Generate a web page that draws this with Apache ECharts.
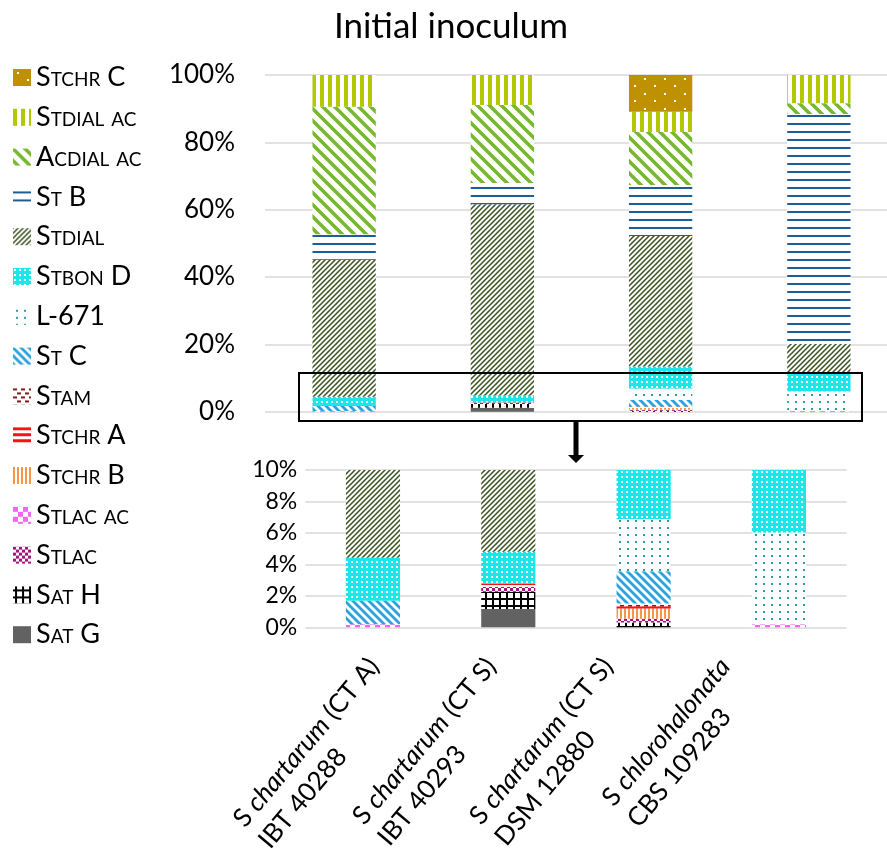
<!DOCTYPE html>
<html>
<head>
<meta charset="utf-8">
<script src="https://cdn.jsdelivr.net/npm/echarts@6/dist/echarts.min.js"></script>
<style>
  html, body { margin: 0; padding: 0; background: #ffffff; }
  #chart { width: 887px; height: 848px; }
</style>
</head>
<body>
<div id="chart"></div>
<script>
// Strains shown on the category axis
const strains = ['IBT 40288', 'IBT 40293', 'DSM 12880', 'CBS 109283'];
const species = ['chartarum', 'chartarum', 'chartarum', 'chlorohalonata'];
const chemotypes = ['(CT A)', '(CT S)', '(CT S)', ''];

// Relative abundance (%) of each metabolite group, stacked from the bottom up
const satG     = [0,    1.16, 0,     0];
const satH     = [0,    1.1,  0.3,   0];
const stlac    = [0,    0.3,  0.25,  0];
const stlacAc  = [0.2,  0,    0,     0.2];
const stchrB   = [0,    0,    0.64,  0];
const stchrA   = [0,    0.2,  0.15,  0];
const stam     = [0,    0,    0.18,  0];
const stC      = [1.49, 0,    2.04,  0];
const l671     = [0,    0,    3.32,  5.83];
const stbonD   = [2.73, 2.04, 6.52,  5.17];
const stdial   = [40.7, 56.8, 38.8,  9.0];
const stB      = [7.58, 6.3,  15.1,  68.2];
const acdialAc = [37.9, 23.2, 15.8,  3.2];
const stdialAc = [9.4,  8.9,  6.0,   8.4];
const stchrC   = [0,    0,    10.9,  0];

// Value axis ranges: [min, max, step]
const overviewAxis = [0, 100, 20];
const detailAxis = [0, 10, 2];

const FONT = 'Lato, "Open Sans", "DejaVu Sans", sans-serif';

// ---- pattern fills -------------------------------------------------------
function tile(w, h, paint) {
  const c = document.createElement('canvas');
  c.width = w; c.height = h;
  const g = c.getContext('2d');
  g.fillStyle = '#ffffff';
  g.fillRect(0, 0, w, h);
  paint(g, w, h);
  return { image: c, repeat: 'repeat' };
}
function diagUp(g, p, color, lw) {          // "/" stripes
  g.strokeStyle = color; g.lineWidth = lw; g.beginPath();
  for (let c = 0; c <= 2 * p; c += p) { g.moveTo(c + 2, -2); g.lineTo(c - p - 2, p + 2); }
  g.stroke();
}
function diagDown(g, p, color, lw) {        // "\" stripes
  g.strokeStyle = color; g.lineWidth = lw; g.beginPath();
  for (let d = -p; d <= p; d += p) { g.moveTo(d - 2, -2); g.lineTo(d + p + 2, p + 2); }
  g.stroke();
}

const fills = {
  'Sat G': '#626262',
  'Sat H': tile(7, 7, g => { g.fillStyle = '#000'; g.fillRect(2, 0, 2, 7); g.fillRect(0, 3, 7, 2); }),
  'Stlac': tile(6, 6, g => { g.fillStyle = '#A3147E'; g.fillRect(0, 0, 3, 3); g.fillRect(3, 3, 3, 3); }),
  'Stlac ac': tile(10, 10, g => { g.fillStyle = '#F466F0'; g.fillRect(0, 0, 5, 5); g.fillRect(5, 5, 5, 5); }),
  'Stchr B': tile(4, 4, g => { g.fillStyle = '#F7964A'; g.fillRect(0, 0, 2, 4); }),
  'Stchr A': tile(6, 6, g => { g.fillStyle = '#FF1010'; g.fillRect(0, 0, 6, 3); }),
  'Stam': tile(8, 8, g => { g.fillStyle = '#7E1C1C'; g.fillRect(0, 1, 4, 2); g.fillRect(4, 5, 4, 2); }),
  'St C': tile(8, 8, g => diagDown(g, 8, '#2AA3DA', 2.8)),
  'L-671': tile(8, 7, g => { g.fillStyle = '#2E9C9E'; g.fillRect(3, 2, 2, 2); }),
  'Stbon D': tile(5, 5, g => { g.fillStyle = '#1CE6EA'; g.fillRect(0, 0, 5, 5); g.fillStyle = '#ffffff'; g.fillRect(1, 1, 2, 2); }),
  'Stdial': tile(5, 5, g => diagUp(g, 5, '#38521F', 1.5)),
  'St B': tile(8, 8, g => { g.fillStyle = '#1F5E95'; g.fillRect(0, 3, 8, 2); }),
  'Acdial ac': tile(12, 12, g => diagDown(g, 12, '#77B82C', 3.6)),
  'Stdial ac': tile(8, 8, g => { g.fillStyle = '#B2C800'; g.fillRect(0, 0, 4, 8); }),
  'Stchr C': tile(20, 15, g => { g.fillStyle = '#BF9000'; g.fillRect(0, 0, 20, 15); g.fillStyle = '#ffffff'; g.fillRect(4, 3, 2, 2); g.fillRect(14, 10, 2, 2); })
};

// Stack order, bottom to top
const groups = [
  ['Sat G', satG], ['Sat H', satH], ['Stlac', stlac], ['Stlac ac', stlacAc],
  ['Stchr B', stchrB], ['Stchr A', stchrA], ['Stam', stam], ['St C', stC],
  ['L-671', l671], ['Stbon D', stbonD], ['Stdial', stdial], ['St B', stB],
  ['Acdial ac', acdialAc], ['Stdial ac', stdialAc], ['Stchr C', stchrC]
];

const series = [];
groups.forEach(([name, values]) => {
  [0, 1].forEach(idx => {
    series.push({
      type: 'bar',
      name: name,
      stack: idx === 0 ? 'overview' : 'detail',
      xAxisIndex: idx,
      yAxisIndex: idx,
      data: values,
      barWidth: '40%',
      clip: true,
      itemStyle: { color: fills[name] },
      emphasis: { disabled: true }
    });
  });
});

const gridLine = { lineStyle: { color: '#d9d9d9', width: 1.5 } };
const labelRich = {
  n: { fontFamily: FONT, fontSize: 26, color: '#000', align: 'left', lineHeight: 33 },
  i: { fontFamily: FONT, fontSize: 26, color: '#000', align: 'left', lineHeight: 33, fontStyle: 'italic' }
};
const hiddenAxis = { axisLabel: { show: false }, axisLine: { show: false }, axisTick: { show: false } };

const chart = echarts.init(document.getElementById('chart'), null, { renderer: 'canvas' });
chart.setOption({
  animation: false,
  backgroundColor: '#ffffff',
  title: {
    text: 'Initial inoculum',
    left: 446, top: 4, textAlign: 'center',
    textStyle: { fontFamily: FONT, fontSize: 35, fontWeight: 'normal', color: '#000' }
  },
  legend: {
    orient: 'vertical', left: 8, top: 59,
    itemWidth: 18, itemHeight: 17, itemGap: 12.8, icon: 'rect',
    selectedMode: false,
    data: groups.map(g => g[0]).reverse(),
    textStyle: { fontFamily: FONT, fontSize: 27, fontStyle: 'small-caps', color: '#000' }
  },
  grid: [
    { left: 265, top: 75, width: 633, height: 336.7, containLabel: false, outerBoundsMode: 'none' },
    { left: 305.3, top: 470, width: 541.3, height: 157.3, containLabel: false, outerBoundsMode: 'none' },
    // strain captions under the detail panel
    { left: 303, top: 470, width: 468, height: 157.3, containLabel: false, outerBoundsMode: 'none' }
  ],
  xAxis: [
    Object.assign({ type: 'category', gridIndex: 0, data: strains }, hiddenAxis),
    Object.assign({ type: 'category', gridIndex: 1, data: strains }, hiddenAxis),
    { type: 'category', gridIndex: 2, data: strains,
      axisLine: { show: false }, axisTick: { show: false },
      axisLabel: {
        interval: 0, rotate: 50, margin: 24, align: 'right', verticalAlign: 'top',
        formatter: (v, i) => '{n|S }{i|' + species[i] + '}' +
          (chemotypes[i] ? '{n| ' + chemotypes[i] + '}' : '') + '\n{n|' + strains[i] + '}',
        rich: labelRich
      } }
  ],
  yAxis: [
    { type: 'value', gridIndex: 0, min: overviewAxis[0], max: overviewAxis[1], interval: overviewAxis[2],
      axisLine: { show: false }, axisTick: { show: false }, splitLine: gridLine,
      axisLabel: { formatter: '{value}%', fontFamily: FONT, fontSize: 26, color: '#000', margin: 30 } },
    { type: 'value', gridIndex: 1, min: detailAxis[0], max: detailAxis[1], interval: detailAxis[2],
      axisLine: { show: false }, axisTick: { show: false }, splitLine: gridLine,
      axisLabel: { formatter: '{value}%', fontFamily: FONT, fontSize: 23, color: '#000', margin: 8 } },
    { type: 'value', gridIndex: 2, min: detailAxis[0], max: detailAxis[1], show: false }
  ],
  series: series,
  graphic: [
    { type: 'rect', z: 100, shape: { x: 299, y: 373, width: 563, height: 48 },
      style: { fill: 'none', stroke: '#000', lineWidth: 2 } },
    { type: 'line', z: 100, shape: { x1: 576, y1: 421, x2: 576, y2: 456 },
      style: { stroke: '#000', lineWidth: 5 } },
    { type: 'polygon', z: 100, shape: { points: [[568, 455], [584, 455], [576, 463]] },
      style: { fill: '#000' } }
  ]
});
</script>
</body>
</html>
